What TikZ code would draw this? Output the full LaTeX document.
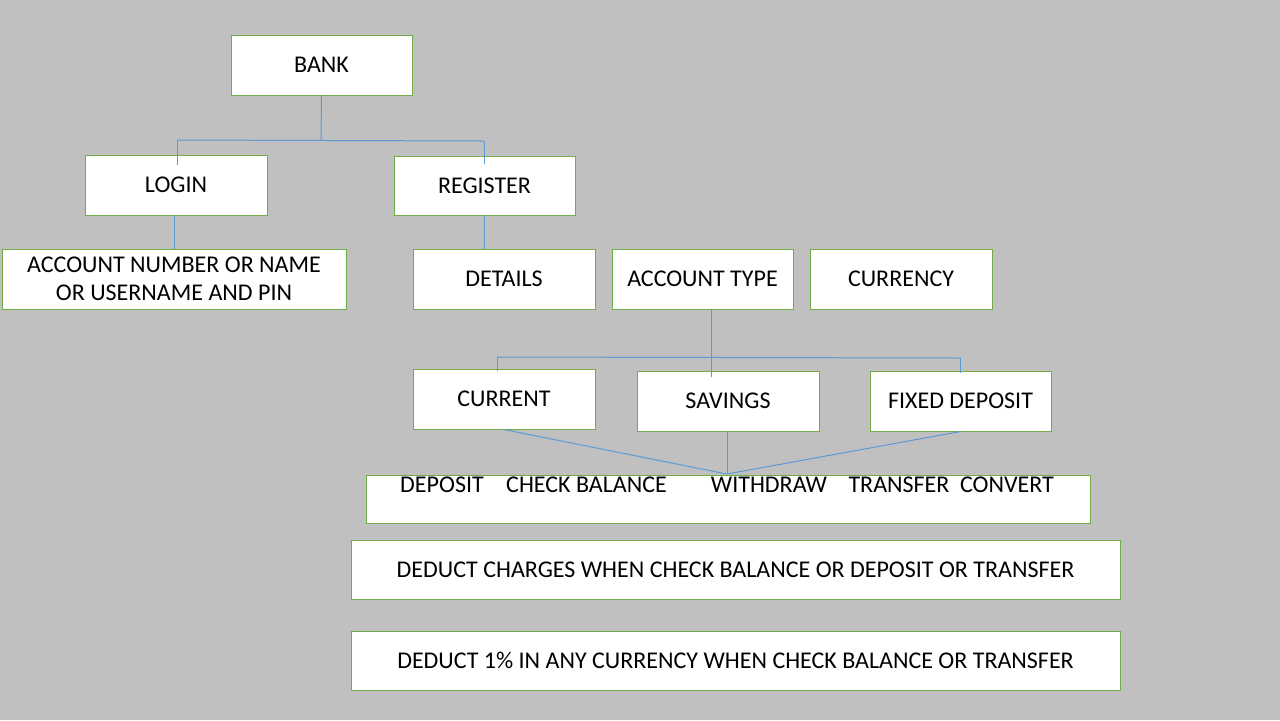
\documentclass[tikz,border=0pt]{standalone}
\usepackage{fontspec}
\setmainfont{Carlito}
\definecolor{bg}{RGB}{192,192,192}
\definecolor{boxline}{RGB}{112,173,71}
\definecolor{conn}{RGB}{91,155,213}
\begin{document}
\begin{tikzpicture}[x=0.5pt,y=-0.5pt,
  box/.style={draw=boxline,line width=0.5pt,fill=white,inner sep=0pt,
    font=\fontsize{12pt}{14pt}\selectfont,align=center},
  lbl/.style={inner sep=0pt,font=\fontsize{12pt}{14pt}\selectfont},
  link/.style={draw=conn,line width=0.5pt}]
\fill[bg] (0,0) rectangle (1280,720);
\useasboundingbox (0,0) rectangle (1280,720);
% boxes
\node[box,minimum width=90.5pt,minimum height=30pt] (bank) at (321.5,65) {BANK};
\node[box,minimum width=91pt,minimum height=30pt] (login) at (176,185) {LOGIN};
\node[box,minimum width=90.5pt,minimum height=29.5pt] (register) at (484.5,185.5) {REGISTER};
\node[box,minimum width=172pt,minimum height=30pt] (acc) at (174,279) {ACCOUNT NUMBER OR NAME\\OR USERNAME AND PIN};
\node[box,minimum width=91pt,minimum height=30pt] (details) at (504,279) {DETAILS};
\node[box,minimum width=90.5pt,minimum height=30pt] (acctype) at (702.5,279) {ACCOUNT TYPE};
\node[box,minimum width=91pt,minimum height=30pt] (currency) at (901,279) {CURRENCY};
\node[box,minimum width=91pt,minimum height=30pt] (current) at (504,399) {CURRENT};
\node[box,minimum width=91pt,minimum height=30pt] (savings) at (728,401) {SAVINGS};
\node[box,minimum width=90.5pt,minimum height=30pt] (fixed) at (960.5,401) {FIXED DEPOSIT};
\node[box,minimum width=362pt,minimum height=24pt] (ops) at (728,499) {};
\node[lbl] (deposit) at (442,485) {DEPOSIT};
\node[lbl] (check) at (586.5,485) {CHECK BALANCE};
\node[lbl] (withdraw) at (769,485) {WITHDRAW};
\node[lbl] (transfer) at (899,485) {TRANSFER};
\node[lbl] (convert) at (1007,485) {CONVERT};
\node[box,minimum width=384.5pt,minimum height=29.5pt] (ded1) at (735.5,569.5) {DEDUCT CHARGES WHEN CHECK BALANCE OR DEPOSIT OR TRANSFER};
\node[box,minimum width=384.5pt,minimum height=29.5pt] (ded2) at (735.5,660.5) {DEDUCT 1\% IN ANY CURRENCY WHEN CHECK BALANCE OR TRANSFER};
% connectors
\coordinate (bj) at (321,140);
\coordinate (bl) at (177,140);
\coordinate (br) at (484,141);
\draw[link] (bank.south) -- (bj);
\draw[link] (bl) -- (br);
\draw[link] (bl) -- ([yshift=-5]login.north -| bl);
\draw[link] (br) -- ([yshift=-4]register.north -| br);
\draw[link] (login.south -| 174,0) -- (acc.north -| 174,0);
\draw[link] (register.south) -- (details.north -| register.south);
\coordinate (tj) at (711,357);
\coordinate (tl) at (497,357);
\coordinate (tr) at (960,358);
\draw[link] (acctype.south -| tj) -- (tj);
\draw[link] (tl) -- (tr);
\draw[link] (tl) -- ([yshift=-1]current.north -| tl);
\draw[link] (tj) -- ([yshift=-3]savings.north -| tj);
\draw[link] (tr) -- ([yshift=-1]fixed.north -| tr);
\coordinate (oj) at (727,474);
\draw[link] (current.south) -- (oj);
\draw[link] (savings.south -| oj) -- (oj);
\draw[link] (fixed.south) -- (oj);
\end{tikzpicture}
\end{document}
